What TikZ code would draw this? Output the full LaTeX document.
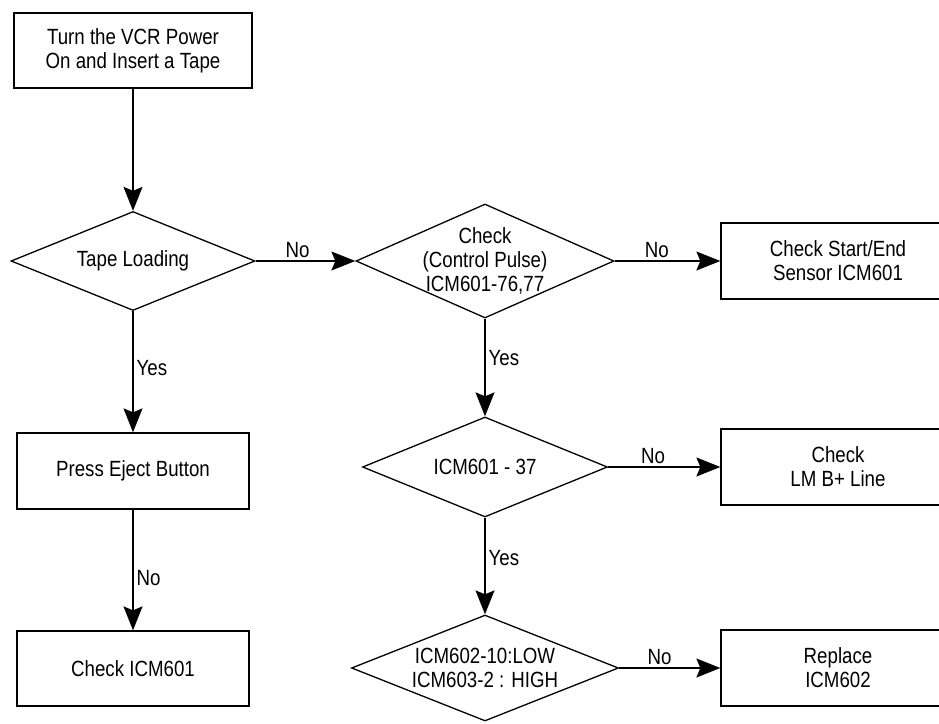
\documentclass[tikz,border=0pt]{standalone}
\usepackage{fontspec}
\setmainfont{Liberation Sans}[FakeStretch=0.85]
\usetikzlibrary{shapes.geometric,arrows.meta}

\begin{document}
\begin{tikzpicture}[x=1pt, y=-1pt,
  font=\fontsize{22}{24}\selectfont,
  line width=1.3pt,
  stepbox/.style={draw, rectangle, minimum width=232pt, minimum height=76pt, align=center, inner sep=0pt},
  test/.style={draw, diamond, inner sep=-30pt, align=center},
  lbl/.style={inner sep=3pt},
  >={Stealth[length=24pt, width=19pt, inset=4pt]}]
\useasboundingbox (0,0) rectangle (939,723);
\node[stepbox, minimum width=238pt, minimum height=75pt] (power) at (133,50.5) {Turn the VCR Power\\On and Insert a Tape};
\node[test, minimum width=244pt, minimum height=99pt] (load) at (133,261) {Tape Loading};
\node[stepbox] (eject) at (133,471) {Press Eject Button};
\node[stepbox, minimum height=75pt] (icm) at (133,668.5) {Check ICM601};
\node[test, minimum width=258pt, minimum height=114pt] (pulse) at (485,261) {Check\\(Control Pulse)\\ICM601-76,77};
\node[stepbox, minimum width=234pt] (sensor) at (838,261) {Check Start/End\\Sensor ICM601};
\node[test, minimum width=245pt, minimum height=100pt] (pin) at (485,467) {ICM601 - 37};
\node[stepbox, minimum width=234pt] (lmb) at (838,467) {Check\\LM B+ Line};
\node[test, minimum width=267pt, minimum height=106pt] (level) at (485,668) {ICM602-10:LOW\\ICM603-2 : HIGH};
\node[stepbox, minimum width=234pt] (repl) at (838,668) {Replace\\ICM602};
\draw[->] (power) -- (load);
\draw[->] (load) -- (eject) node[lbl, pos=0.47, right]{Yes};
\draw[->] (eject) -- (icm) node[lbl, pos=0.57, right]{No};
\draw[->] (load) -- (pulse) node[lbl, pos=0.42, above]{No};
\draw[->] (pulse) -- (sensor) node[lbl, pos=0.4, above]{No};
\draw[->] (pulse) -- (pin) node[lbl, pos=0.4, right]{Yes};
\draw[->] (pin) -- (lmb) node[lbl, pos=0.4, above]{No};
\draw[->] (pin) -- (level) node[lbl, pos=0.42, right]{Yes};
\draw[->] (level) -- (repl) node[lbl, pos=0.4, above]{No};
\end{tikzpicture}
\end{document}
